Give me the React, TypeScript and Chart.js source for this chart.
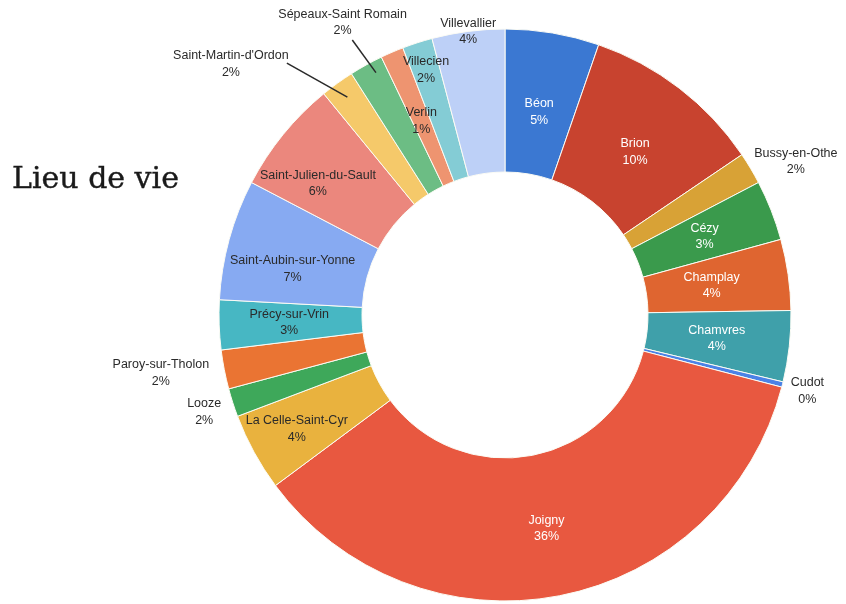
import React, { useEffect, useRef } from "react";
import { Chart, registerables } from "chart.js";

Chart.register(...registerables);

const communes = [
  "Béon", "Brion", "Bussy-en-Othe", "Cézy", "Champlay", "Chamvres", "Cudot",
  "Joigny", "La Celle-Saint-Cyr", "Looze", "Paroy-sur-Tholon", "Précy-sur-Vrin",
  "Saint-Aubin-sur-Yonne", "Saint-Julien-du-Sault", "Saint-Martin-d'Ordon",
  "Sépeaux-Saint Romain", "Verlin", "Villecien", "Villevallier",
];
const shares = [5.3, 10.2, 1.8, 3.4, 4.0, 4.0, 0.3, 35.7, 4.4, 1.6, 2.2, 2.8, 6.8, 6.4, 1.9, 1.9, 1.3, 1.7, 4.1];
const sliceColors = [
  "#3b78d2", "#c8432f", "#d8a236", "#3a9a4c", "#df6530", "#3fa0aa", "#4b82e6",
  "#e85840", "#e9b23e", "#3ea85a", "#ea7433", "#47b7c3", "#87aaf2", "#eb877d",
  "#f5c96a", "#6cbd84", "#ee9470", "#84ccd5", "#bdd0f7",
];
const titleText = "Lieu de vie";

// label layout: radius factor (of outer radius), angle shift (deg), white text?
const labelRadius = [0.72, 0.73, 1.15, 0.75, 0.73, 0.745, 1.09, 0.76, 0.83, 1.105, 1.22, 0.755, 0.76, 0.8, 1.3, 1.17, 0.74, 0.9, 1.0];
const labelShift = [0, 1, 3, 0, 0, 0, 0, 0, 0, 0, 1.5, 0, -3, -4, -11.6, 0, 0, 0, 0];
const whiteText = [true, true, false, true, true, true, false, true, false, false, false, false, false, false, false, false, false, false, false];
// leader lines: [index, r1, shift1, r2, shift2]
const leaders: number[][] = [
  [14, 1.165, -5, 0.94, 0],
  [15, 1.1, 0, 0.96, 1],
];

const labelPlugin = {
  id: "sliceLabels",
  afterDatasetsDraw(chart: any) {
    const ctx = chart.ctx;
    const meta = chart.getDatasetMeta(0);
    const total = shares.reduce((a, b) => a + b, 0);
    ctx.save();
    const pt = (arc: any, rf: number, shiftDeg: number) => {
      const mid = (arc.startAngle + arc.endAngle) / 2 + (shiftDeg * Math.PI) / 180;
      const r = arc.outerRadius * rf;
      return [arc.x + Math.cos(mid) * r, arc.y + Math.sin(mid) * r];
    };
    ctx.strokeStyle = "#2a2a2a";
    ctx.lineWidth = 1.5;
    leaders.forEach(([i, r1, s1, r2, s2]) => {
      const arc = meta.data[i];
      const a = pt(arc, r1, s1);
      const b = pt(arc, r2, s2);
      ctx.beginPath();
      ctx.moveTo(a[0], a[1]);
      ctx.lineTo(b[0], b[1]);
      ctx.stroke();
    });
    ctx.font = "12.5px 'Liberation Sans', Arial, sans-serif";
    ctx.textAlign = "center";
    ctx.textBaseline = "middle";
    meta.data.forEach((arc: any, i: number) => {
      const [x, y] = pt(arc, labelRadius[i], labelShift[i]);
      const pct = Math.round((shares[i] / total) * 100) + "%";
      ctx.fillStyle = whiteText[i] ? "#ffffff" : "#2a2a2a";
      ctx.fillText(communes[i], x, y - 8);
      ctx.fillText(pct, x, y + 8.5);
    });
    ctx.restore();
  },
};

export default function App() {
  const ref = useRef<HTMLCanvasElement>(null);
  useEffect(() => {
    const chart = new Chart(ref.current!, {
      type: "doughnut",
      data: {
        labels: communes,
        datasets: [
          {
            data: shares,
            backgroundColor: sliceColors,
            borderColor: "#fbfbf4",
            borderWidth: 1,
          },
        ],
      },
      options: {
        animation: false,
        responsive: false,
        maintainAspectRatio: false,
        cutout: "50%",
        radius: 286,
        layout: { padding: { left: 219, right: 55, top: 29, bottom: 3 } },
        plugins: { legend: { display: false }, tooltip: { enabled: false } },
        events: [],
      },
      plugins: [labelPlugin],
    });
    return () => chart.destroy();
  }, []);
  return (
    <div style={{ position: "fixed", left: 0, top: 0, width: 846, height: 604, background: "#fff" }}>
      <canvas ref={ref} width={846} height={604} style={{ position: "absolute", left: 0, top: 0 }} />
      <div
        style={{
          position: "absolute",
          left: 12,
          top: 160,
          fontFamily: "'DejaVu Serif', serif",
          fontSize: 30,
          color: "#1a1a1a",
          whiteSpace: "nowrap",
          lineHeight: "36px",
          WebkitTextStroke: "0.4px #1a1a1a",
        }}
      >
        {titleText}
      </div>
    </div>
  );
}
